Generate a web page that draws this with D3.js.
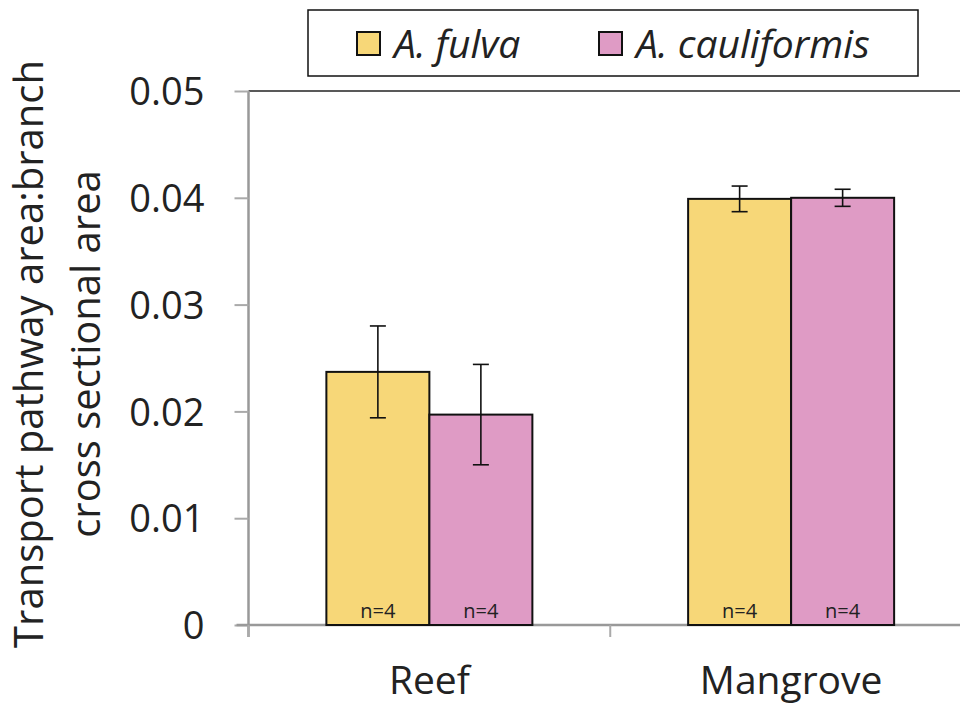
<!DOCTYPE html>
<html><head><meta charset="utf-8">
<script src="https://cdn.jsdelivr.net/npm/d3@7"></script>
<style>body{margin:0;background:#fff}svg{display:block}text{font-family:"Open Sans",sans-serif;fill:#222}</style>
</head><body><svg id="c" width="960" height="706"></svg>
<script>
const categories = ["Reef", "Mangrove"];
const seriesNames = ["A. fulva", "A. cauliformis"];
const fulva = [0.0237, 0.0399];
const fulvaErr = [0.0043, 0.0012];
const cauliformis = [0.0197, 0.0400];
const cauliformisErr = [0.0047, 0.0008];
const sampleN = ["n=4", "n=4", "n=4", "n=4"];
const yTicks = [0, 0.01, 0.02, 0.03, 0.04, 0.05];
const colors = ["#F7D778", "#DF9BC5"];

(function () {
const svg = d3.select("#c");
const pLeft = 248.5, pRight = 972, pTop = 91, pBottom = 625;
const y = d3.scaleLinear().domain([0, 0.05]).range([pBottom, pTop]);
const x = d3.scaleBand().domain(categories).range([pLeft, pRight]);
const xs = d3.scaleBand().domain(seriesNames).range([0, 206]);
const vals = [fulva, cauliformis], errs = [fulvaErr, cauliformisErr];

svg.append("line").attr("x1", pLeft).attr("x2", 960).attr("y1", pTop).attr("y2", pTop).attr("stroke", "#222").attr("stroke-width", 1.5);

const ya = svg.append("g").attr("transform", `translate(${pLeft},0)`)
  .call(d3.axisLeft(y).tickValues(yTicks).tickFormat(d => d === 0 ? "0" : d3.format(".2f")(d)).tickSize(14).tickSizeOuter(0));
ya.select(".domain").attr("stroke", "#999").attr("stroke-width", 2.5).attr("d", `M0,${pTop}V${pBottom + 12}`);
ya.selectAll(".tick line").attr("stroke", "#aaa").attr("stroke-width", 2);
ya.selectAll(".tick text").attr("font-size", 38).attr("x", -44).attr("dy", "0.36em").style("font-family", "'Open Sans', sans-serif").attr("fill", "#222");

svg.append("line").attr("x1", pLeft - 12).attr("x2", 960).attr("y1", pBottom).attr("y2", pBottom).attr("stroke", "#999").attr("stroke-width", 2.5);
[pLeft, pLeft + x.step()].forEach(b => svg.append("line").attr("x1", b).attr("x2", b).attr("y1", pBottom).attr("y2", pBottom + 12).attr("stroke", "#aaa").attr("stroke-width", 2));
categories.forEach(c => svg.append("text").attr("x", x(c) + x.bandwidth() / 2).attr("y", 694).attr("text-anchor", "middle").attr("font-size", 39).text(c));

seriesNames.forEach((s, si) => {
  categories.forEach((c, ci) => {
    const bx = x(c) + x.bandwidth() / 2 - 103 + xs(s);
    const v = vals[si][ci], e = errs[si][ci];
    svg.append("rect").attr("x", bx).attr("y", y(v)).attr("width", xs.bandwidth()).attr("height", pBottom - y(v))
      .attr("fill", colors[si]).attr("stroke", "#111").attr("stroke-width", 2);
    const cx = bx + xs.bandwidth() / 2;
    const g = svg.append("g").attr("stroke", "#111").attr("stroke-width", 1.6);
    g.append("line").attr("x1", cx).attr("x2", cx).attr("y1", y(v + e)).attr("y2", y(v - e));
    g.append("line").attr("x1", cx - 8).attr("x2", cx + 8).attr("y1", y(v + e)).attr("y2", y(v + e));
    g.append("line").attr("x1", cx - 8).attr("x2", cx + 8).attr("y1", y(v - e)).attr("y2", y(v - e));
    svg.append("text").attr("x", cx).attr("y", 618).attr("text-anchor", "middle").attr("font-size", 20).text(sampleN[si * 2 + ci]);
  });
});

const yt = svg.append("text").attr("transform", "translate(0,354) rotate(-90)").attr("text-anchor", "middle").attr("font-size", 40);
yt.append("tspan").attr("x", 0).attr("y", 43).text("Transport pathway area:branch");
yt.append("tspan").attr("x", 0).attr("y", 100).text("cross sectional area");

const lg = svg.append("g");
lg.append("rect").attr("x", 308).attr("y", 10).attr("width", 610).attr("height", 66).attr("fill", "#fff").attr("stroke", "#111").attr("stroke-width", 1.5);
const lx = [357, 599];
seriesNames.forEach((s, i) => {
  lg.append("rect").attr("x", lx[i]).attr("y", 32).attr("width", 23).attr("height", 23).attr("fill", colors[i]).attr("stroke", "#111").attr("stroke-width", 2);
  lg.append("text").attr("x", lx[i] + 37).attr("y", 58).attr("font-size", 39).attr("font-style", "italic").text(s);
});
})();
</script></body></html>
